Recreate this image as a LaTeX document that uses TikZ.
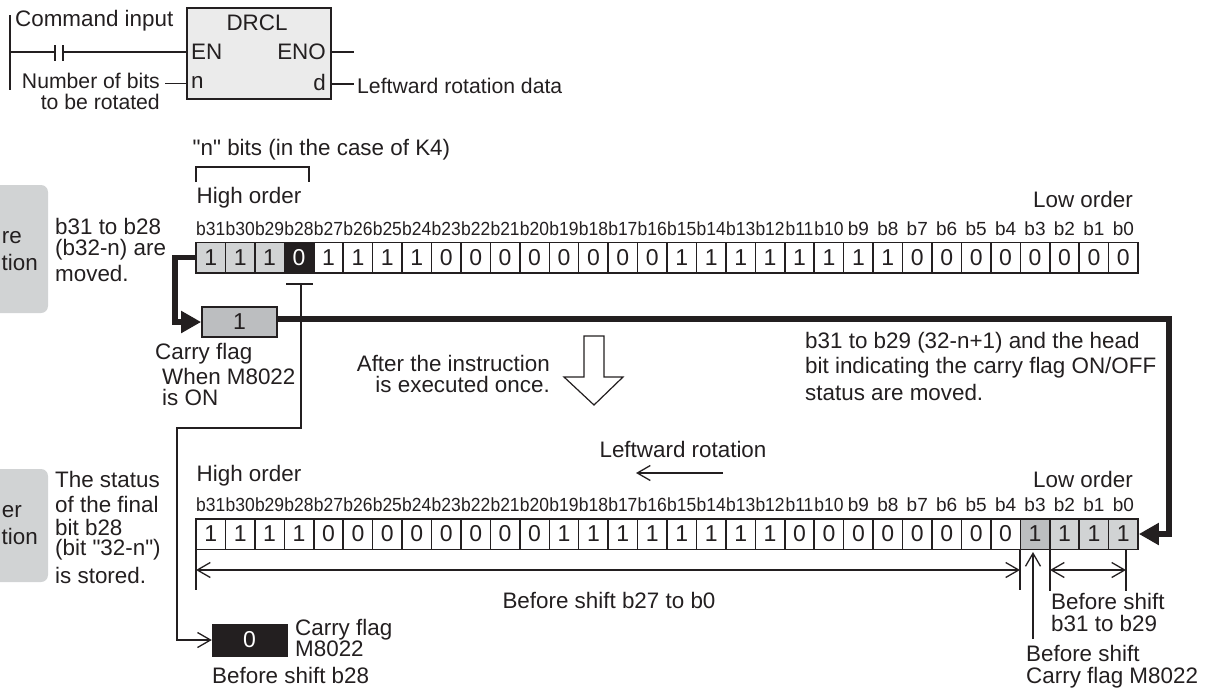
\documentclass[tikz,border=0pt]{standalone}
\usepackage{fontspec}
\setmainfont{Liberation Sans}[Ligatures=TeXOff]
\usetikzlibrary{arrows.meta}
\definecolor{ink}{HTML}{231F20}
\definecolor{cellgray}{HTML}{D1D3D4}
\definecolor{darkcell}{HTML}{BCBEC0}
\definecolor{fbgray}{HTML}{EBEBEB}
\tikzset{
  txt/.style={font=\fontsize{22.4}{24}\selectfont,text=ink,inner sep=0pt,anchor=west},
  txtr/.style={txt,anchor=east},
  smalltxt/.style={font=\fontsize{21.2}{24}\selectfont},
  bitlab/.style={font=\fontsize{19}{20}\selectfont,text=ink,inner sep=0pt},
  thin line/.style={draw=ink,line width=1.3pt},
  cellbox/.style={draw=ink,line width=1.5pt,minimum width=29.44pt,minimum height=30.5pt,inner sep=0pt,font=\fontsize{23}{24}\selectfont,text=ink},
  openarrow/.style={-{Straight Barb[length=13pt,width=15pt,line width=1.3pt]}},
  bothopen/.style={{Straight Barb[length=13pt,width=15pt,line width=1.3pt]}-{Straight Barb[length=13pt,width=15pt,line width=1.3pt]}},
  heavy/.style={draw=ink,line width=5.5pt},
  heavyarrow/.style={-{Triangle[length=20pt,width=21pt]}},
}
\begin{document}
\begin{tikzpicture}[x=1pt,y=-1pt]
\useasboundingbox (0,0) rectangle (1211,689);
% gray side boxes
\fill[cellgray,rounded corners=7pt] (-20,185) rectangle (48,313);
\fill[cellgray,rounded corners=7pt] (-20,469) rectangle (48,582);
\node[txtr] (sa) at (22,238) {re};
\node[txtr] (sb) at (38,262) {tion};
\node[txtr] (sc) at (22,512) {er};
\node[txtr] (sd) at (38,536) {tion};
% function block
\node[draw=ink,line width=1.7pt,fill=fbgray,minimum width=144pt,minimum height=91pt,inner sep=0pt] (fb) at (259,53.5) {};
\node[txt,anchor=center] (fbt) at (257,23) {DRCL};
\node[txt] (en) at (191,52) {EN};
\node[txtr] (eno) at (326,52) {ENO};
\node[txt] (nn) at (191,82) {n};
\node[txtr] (dd) at (326,82) {d};
\coordinate (railt) at (10,15);
\coordinate (railb) at (10,90);
\coordinate (c1) at (55,52);
\coordinate (c2) at (63,52);
\draw[thin line] (railt) -- (railb);
\draw[thin line] (10,52) -- (c1);
\draw[thin line] (55,45) -- (55,61);
\draw[thin line] (63,45) -- (63,61);
\draw[thin line] (c2) -- (187,52);
\draw[thin line] (331,52) -- (354,52);
\draw[thin line] (331,84) -- (354,84);
\draw[thin line] (165,83.5) -- (187,83.5);
\node[txt] (ci) at (15,21) {Command input};
\node[txtr,smalltxt] (nb) at (160,81) {Number of bits};
\node[txtr,smalltxt] (tr) at (160,102) {to be rotated};
\node[txt,smalltxt] (lr) at (357,86) {Leftward rotation data};
% n bits
\node[txt] (nbits) at (192.5,150) {"n" bits (in the case of K4)};
\draw[thin line] (196,182) -- (196,167) -- (309,167) -- (309,182);
\node[txt] (ho1) at (196.5,198) {High order};
\node[txtr] (lo1) at (1133,199) {Low order};
\node[txt] (s1) at (55,226) {b31 to b28};
\node[txt] (s2) at (55,250) {(b32-n) are};
\node[txt] (s3) at (55,273) {moved.};
% bit rows
\foreach \i/\v [count=\k from 0] in {31/1,30/1,29/1,28/0,27/1,26/1,25/1,24/1,23/0,22/0,21/0,20/0,19/0,18/0,17/0,16/0,15/1,14/1,13/1,12/1,11/1,10/1,9/1,8/1,7/0,6/0,5/0,4/0,3/0,2/0,1/0,0/0}{
  \pgfmathsetmacro{\xx}{196+29.44*(\k+0.5)}
  \ifnum\i>9
    \node[bitlab,xscale=.92] (ta\k) at (\xx,229) {b\i};
    \node[bitlab,xscale=.92] (tb\k) at (\xx,505) {b\i};
  \else
    \node[bitlab] (ta\k) at (\xx,229) {b\i};
    \node[bitlab] (tb\k) at (\xx,505) {b\i};
  \fi
  \ifnum\k<3
    \node[cellbox,fill=cellgray] (r\k) at (\xx,257.5) {\v};
  \else\ifnum\k=3
    \node[cellbox,fill=ink,text=white] (r\k) at (\xx,257.5) {\v};
  \else
    \node[cellbox] (r\k) at (\xx,257.5) {\v};
  \fi\fi
}
\foreach \v [count=\k from 0] in {1,1,1,1,0,0,0,0,0,0,0,0,1,1,1,1,1,1,1,1,0,0,0,0,0,0,0,0,1,1,1,1}{
  \pgfmathsetmacro{\xx}{196+29.44*(\k+0.5)}
  \ifnum\k=28
    \node[cellbox,fill=darkcell] (q\k) at (\xx,534) {\v};
  \else\ifnum\k>28
    \node[cellbox,fill=cellgray] (q\k) at (\xx,534) {\v};
  \else
    \node[cellbox] (q\k) at (\xx,534) {\v};
  \fi\fi
}
% carry box
\node[draw=ink,line width=1.7pt,fill=darkcell,minimum width=75pt,minimum height=30pt,inner sep=0pt,font=\fontsize{23}{24}\selectfont,text=ink] (cb) at (239.5,322) {1};
% thin return line
\coordinate (tick) at (301,284);
\coordinate (bend1) at (301,428);
\coordinate (bend2) at (177,428);
\coordinate (bend3) at (177,640);
\draw[thin line] (286,284) -- (313,284);
\node[draw=ink,fill=ink,minimum width=75pt,minimum height=32pt,inner sep=0pt,font=\fontsize{23}{24}\selectfont,text=white] (bb) at (249.5,640) {0};
\draw[thin line,openarrow] (tick) -- (bend1) -- (bend2) -- (bend3) -- (bb.west);
% heavy lines
\draw[heavy,heavyarrow,line join=miter] (r0.west) -| (175,322) -- (cb.west);
\coordinate (hc) at (1169,319);
\coordinate (hd) at (1169,534);
\draw[heavy,heavyarrow,line join=miter] (cb.east |- hc) -- (hc) -- (hd) -- (q31.east);
% labels
\node[txt] (cf) at (155,354) {Carry flag};
\node[txt,align=left,font=\fontsize{22.4}{21}\selectfont] (wm) at (162,386.5) {When M8022\\is ON};
\node[txtr,align=right,font=\fontsize{22.4}{20.5}\selectfont] (ai) at (550,374) {After the instruction\\is executed once.};
\node[txt] (ba) at (805,343) {b31 to b29 (32-n+1) and the head};
\node[txt] (bb2) at (805,368) {bit indicating the carry flag ON/OFF};
\node[txt] (bc) at (805,392) {status are moved.};
% hollow arrow
\draw[draw=ink,line width=1.2pt,fill=white] (584,336) -- (584,377) -- (564,377) -- (594,405) -- (623,377) -- (604,377) -- (604,336) -- cycle;
% leftward
\node[txt,anchor=center] (lf) at (683,449) {Leftward rotation};
\coordinate (la) at (723,473);
\coordinate (lb) at (636,473);
\draw[thin line,openarrow] (la) -- (lb);
\node[txt] (ho2) at (196.5,476) {High order};
\node[txtr] (lo2) at (1133,479) {Low order};
\node[txt] (t1) at (55,479) {The status};
\node[txt] (t2) at (55,504) {of the final};
\node[txt] (t3) at (55,527) {bit b28};
\node[txt] (t4) at (55,550) {(bit "32-n")};
\node[txt] (t5) at (55,575) {is stored.};
% dims
\coordinate (d1) at (196,570);
\coordinate (d2) at (1020,570);
\coordinate (d3) at (1050,570);
\coordinate (d4) at (1126,570);
\draw[thin line] (196,549) -- (196,590);
\draw[thin line] (1020,549) -- (1020,590);
\draw[thin line] (1050,549) -- (1050,591);
\draw[thin line] (1126,549) -- (1126,591);
\draw[thin line,bothopen] (d1) -- (d2);
\draw[thin line,bothopen] (d3) -- (d4);
\coordinate (up1) at (1033,639);
\coordinate (up2) at (1033,552);
\draw[thin line,openarrow] (up1) -- (up2);
\node[txt,anchor=center] (bs) at (609,600) {Before shift b27 to b0};
\node[txt,align=left,font=\fontsize{22.4}{22}\selectfont] (b1) at (1051,612) {Before shift\\b31 to b29};
\node[txt,align=left,font=\fontsize{22.4}{22}\selectfont] (b3) at (1026,667) {Before shift\\Carry flag M8022};
\node[txt,align=left,font=\fontsize{22.4}{21}\selectfont] (k1) at (295,637.5) {Carry flag\\M8022};
\node[txt] (k3) at (212,675) {Before shift b28};
\end{tikzpicture}
\end{document}
